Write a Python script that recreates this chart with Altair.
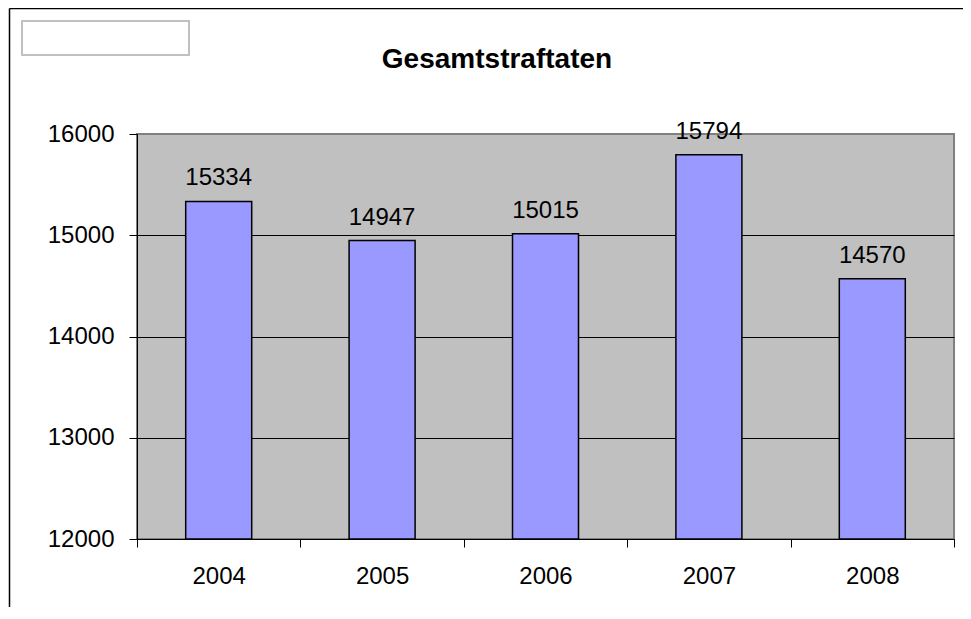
import altair as alt
import pandas as pd

years = ["2004", "2005", "2006", "2007", "2008"]
values = [15334, 14947, 15015, 15794, 14570]
title_text = "Gesamtstraftaten"
y_ticks = [12000, 13000, 14000, 15000, 16000]

df = pd.DataFrame({"Jahr": years, "Wert": values})

FONT = "Liberation Sans"
W, H = 817, 405

x_enc = alt.X("Jahr:N", sort=years, title=None,
              scale=alt.Scale(paddingInner=0, paddingOuter=0),
              axis=alt.Axis(labelAngle=0, labelFontSize=24, labelFont=FONT,
                            labelColor="black", tickBand="extent", tickSize=8,
                            tickColor="black", domainColor="black", domainWidth=1,
                            labelPadding=17, grid=False))
y_scale = alt.Scale(domain=[12000, 16000], nice=False, zero=False)

base = alt.Chart(df)

bars = base.mark_bar(width=66, color="#9999FF", stroke="black", strokeWidth=1.5).encode(
    x=x_enc,
    y=alt.Y("Wert:Q", scale=y_scale, title=None,
            axis=alt.Axis(values=y_ticks, format="d", labelFontSize=24, labelFont=FONT,
                          labelColor="black", tickSize=8, tickColor="black",
                          domainColor="black", domainWidth=1, labelPadding=15,
                          grid=True,
                          gridColor={"condition": {"test": "datum.value == 16000", "value": "#808080"},
                                     "value": "black"},
                          gridWidth=1)),
    y2=alt.datum(12000),
)

labels = base.mark_text(fontSize=24, font=FONT, color="black", baseline="alphabetic",
                        align="center", dy=-16).encode(
    x=alt.X("Jahr:N", sort=years),
    y=alt.Y("Wert:Q", scale=y_scale),
    text=alt.Text("Wert:Q", format="d"),
)

title = alt.Chart(pd.DataFrame({"t": [title_text]})).mark_text(
    fontSize=28, font=FONT, fontWeight="bold", color="black", align="center",
    baseline="alphabetic").encode(
    x=alt.value(360), y=alt.value(-66), text="t:N")

box = alt.Chart(pd.DataFrame({"a": [0]})).mark_rect(
    fill="white", stroke="#C0C0C0", strokeWidth=2).encode(
    x=alt.value(-115), x2=alt.value(52), y=alt.value(-113), y2=alt.value(-79))

border_left = alt.Chart(pd.DataFrame({"a": [0]})).mark_rule(color="black", strokeWidth=1.5).encode(
    x=alt.value(-127.5), y=alt.value(-125.5), y2=alt.value(500))
border_top = alt.Chart(pd.DataFrame({"a": [0]})).mark_rule(color="black", strokeWidth=1.5).encode(
    x=alt.value(-127.5), x2=alt.value(900), y=alt.value(-125.5))

chart = alt.layer(bars, labels, title, box, border_left, border_top).properties(
    width=W, height=H,
    background="white",
    autosize=alt.AutoSizeParams(type="none"),
    padding={"left": 129, "top": 126, "right": 9, "bottom": 68},
).configure_view(
    fill="#C0C0C0", stroke="#808080", strokeWidth=2
)

chart.save("out.html", embed_options={"renderer": "svg", "actions": False})
